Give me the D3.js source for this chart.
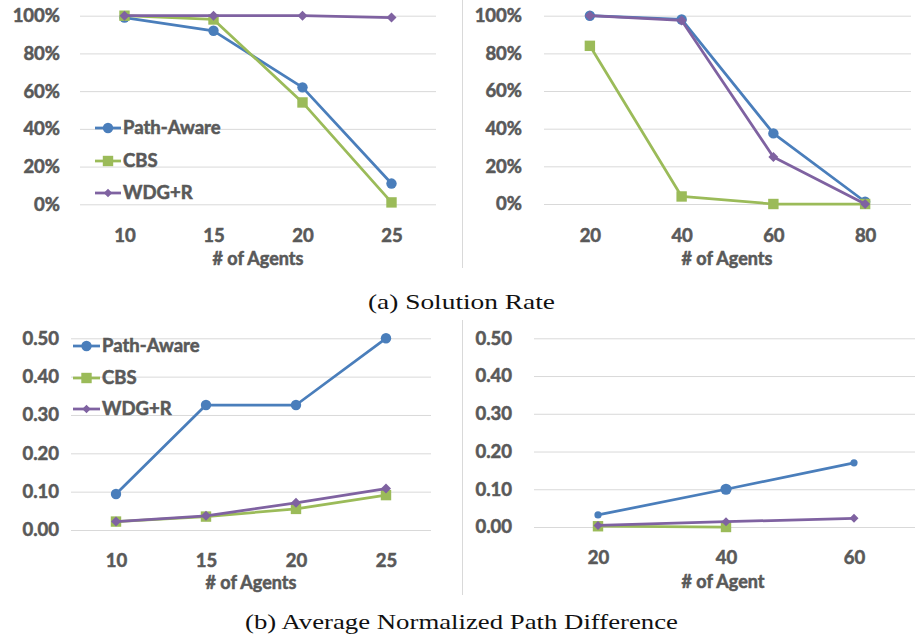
<!DOCTYPE html>
<html>
<head>
<meta charset="utf-8">
<script src="https://cdn.jsdelivr.net/npm/d3@7"></script>
<style>
  html, body { margin: 0; padding: 0; background: #fff; }
  svg { display: block; }
</style>
</head>
<body>
<svg id="chart" width="915" height="640"></svg>
<script>
// ---------------- DATA ----------------
const seriesNames = ["Path-Aware", "CBS", "WDG+R"];

// (a) Solution Rate
const agentsA1 = [10, 15, 20, 25];
const rateA1_pathAware = [0.99, 0.92, 0.62, 0.11];
const rateA1_cbs       = [1.00, 0.98, 0.54, 0.01];
const rateA1_wdg       = [1.00, 1.00, 1.00, 0.99];

const agentsA2 = [20, 40, 60, 80];
const rateA2_pathAware = [1.00, 0.98, 0.375, 0.012];
const rateA2_cbs       = [0.84, 0.04, 0.00, 0.00];
const rateA2_wdg       = [1.00, 0.975, 0.25, 0.00];

const rateTicks = [0, 0.2, 0.4, 0.6, 0.8, 1.0];

// (b) Average Normalized Path Difference
const agentsB1 = [10, 15, 20, 25];
const diffB1_pathAware = [0.094, 0.326, 0.326, 0.50];
const diffB1_cbs       = [0.022, 0.035, 0.055, 0.091];
const diffB1_wdg       = [0.022, 0.037, 0.071, 0.108];

const agentsB2 = [20, 40, 60];
const diffB2_pathAware = [0.032, 0.100, 0.170];
const diffB2_cbs       = [0.002, 0.000];
const diffB2_wdg       = [0.004, 0.014, 0.023];

const diffTicks = [0, 0.1, 0.2, 0.3, 0.4, 0.5];

const captionA = "(a) Solution Rate";
const captionB = "(b) Average Normalized Path Difference";
const xTitleA = "# of Agents";
const xTitleB1 = "# of Agents";
const xTitleB2 = "# of Agent";

// ---------------- STYLE ----------------
const colors = { "Path-Aware": "#4a7ebb", "CBS": "#9bbb59", "WDG+R": "#7f62a1" };
const shapes = { "Path-Aware": "circle", "CBS": "square", "WDG+R": "diamond" };
const labelFont = "Lato, 'Open Sans', sans-serif";
const labelWeight = 700;
const textColor = "#595959";
const gridColor = "#d9d9d9";

const svg = d3.select("#chart");

function drawMarker(g, shape, cx, cy, color, s) {
  if (shape === "circle") {
    g.append("circle").attr("cx", cx).attr("cy", cy).attr("r", s).attr("fill", color);
  } else if (shape === "square") {
    g.append("rect").attr("x", cx - s).attr("y", cy - s).attr("width", 2 * s).attr("height", 2 * s).attr("fill", color);
  } else {
    g.append("path")
      .attr("d", `M${cx},${cy - s}L${cx + s},${cy}L${cx},${cy + s}L${cx - s},${cy}Z`)
      .attr("fill", color);
  }
}

function styleText(sel, size) {
  sel.attr("font-family", labelFont).attr("font-weight", labelWeight)
    .attr("font-size", size).attr("fill", textColor)
    .attr("stroke", textColor).attr("stroke-width", 0.55);
}

function panel(cfg) {
  const g = svg.append("g");
  const x = d3.scalePoint().domain(cfg.cats).range(cfg.xRange).padding(0.5);
  const y = d3.scaleLinear().domain([0, cfg.yMax]).range(cfg.yRange);

  // y axis with gridlines
  const yAxis = d3.axisLeft(y)
    .tickValues(cfg.ticks)
    .tickFormat(cfg.fmt)
    .tickSize(-(cfg.xRange[1] - cfg.xRange[0]))
    .tickPadding(cfg.yLabelPad);
  const ya = g.append("g").attr("transform", `translate(${cfg.xRange[0]},0)`).call(yAxis);
  ya.select(".domain").remove();
  ya.selectAll("line").attr("stroke", gridColor).attr("stroke-width", 1);
  styleText(ya.selectAll("text"), cfg.fontSize);

  // x axis labels
  const xAxis = d3.axisBottom(x).tickSize(0).tickPadding(0);
  const xa = g.append("g").attr("transform", `translate(0,${cfg.xLabelY})`).call(xAxis);
  xa.select(".domain").remove();
  styleText(xa.selectAll("text").attr("dy", "0.35em"), cfg.fontSize);

  // x title
  styleText(g.append("text")
    .attr("x", (cfg.xRange[0] + cfg.xRange[1]) / 2 + cfg.titleDx)
    .attr("y", cfg.titleY).attr("dy", "0.35em")
    .attr("text-anchor", "middle")
    .text(cfg.title), cfg.fontSize - 0.5);

  // series
  const line = d3.line().x(d => x(d[0])).y(d => y(d[1]));
  cfg.series.forEach(sr => {
    const pts = sr.values.map((v, i) => [cfg.cats[i], v]);
    g.append("path").datum(pts)
      .attr("d", line).attr("fill", "none")
      .attr("stroke", colors[sr.name]).attr("stroke-width", 2.75)
      .attr("stroke-linejoin", "round");
    pts.forEach((p, i) => {
      const s = (sr.sizes ? sr.sizes[i] : null) || cfg.markerSize[shapes[sr.name]];
      drawMarker(g, shapes[sr.name], x(p[0]), y(p[1]), colors[sr.name], s);
    });
  });

  // legend
  if (cfg.legend) {
    const L = cfg.legend;
    seriesNames.forEach((n, i) => {
      const yy = L.ys[i];
      g.append("line").attr("x1", L.x0).attr("x2", L.x1).attr("y1", yy).attr("y2", yy)
        .attr("stroke", colors[n]).attr("stroke-width", 2.75);
      drawMarker(g, shapes[n], (L.x0 + L.x1) / 2, yy, colors[n], cfg.markerSize[shapes[n]] * (shapes[n] === "diamond" ? 0.85 : 1));
      styleText(g.append("text").attr("x", L.x1 + 2).attr("y", yy).attr("dy", "0.35em").text(n), cfg.fontSize);
    });
  }
}

const pct = d => d3.format(".0%")(d);
const dec = d => d3.format(".2f")(d);
const msize = { circle: 5.2, square: 5.2, diamond: 5 };

panel({
  cats: agentsA1, xRange: [80, 436], yRange: [204.3, 15.7], yMax: 1,
  ticks: rateTicks, fmt: pct, yLabelPad: 20, xLabelY: 236, titleY: 259, titleDx: 0,
  fontSize: 18.5, title: xTitleA, markerSize: msize,
  series: [
    { name: "Path-Aware", values: rateA1_pathAware },
    { name: "CBS", values: rateA1_cbs },
    { name: "WDG+R", values: rateA1_wdg }
  ],
  legend: { x0: 95, x1: 121, ys: [128, 161, 193] }
});

panel({
  cats: agentsA2, xRange: [544, 911], yRange: [204, 15.7], yMax: 1,
  ticks: rateTicks, fmt: pct, yLabelPad: 22, xLabelY: 236, titleY: 259, titleDx: -0.5,
  fontSize: 18.5, title: xTitleA, markerSize: msize,
  series: [
    { name: "Path-Aware", values: rateA2_pathAware },
    { name: "CBS", values: rateA2_cbs },
    { name: "WDG+R", values: rateA2_wdg }
  ]
});

panel({
  cats: agentsB1, xRange: [71, 431], yRange: [530, 338.3], yMax: 0.5,
  ticks: diffTicks, fmt: dec, yLabelPad: 12, xLabelY: 560.5, titleY: 583, titleDx: 0,
  fontSize: 18.5, title: xTitleB1, markerSize: msize,
  series: [
    { name: "Path-Aware", values: diffB1_pathAware },
    { name: "CBS", values: diffB1_cbs },
    { name: "WDG+R", values: diffB1_wdg }
  ],
  legend: { x0: 73, x1: 100, ys: [346, 378, 409] }
});

panel({
  cats: agentsB2, xRange: [534, 918], yRange: [527, 338.3], yMax: 0.5,
  ticks: diffTicks, fmt: dec, yLabelPad: 22, xLabelY: 558, titleY: 582, titleDx: -3,
  fontSize: 18.5, title: xTitleB2, markerSize: msize,
  series: [
    { name: "CBS", values: diffB2_cbs },
    { name: "Path-Aware", values: diffB2_pathAware, sizes: [3.6, 5.6, 3.6] },
    { name: "WDG+R", values: diffB2_wdg, sizes: [4.5, 4.5, 4.5] }
  ]
});

// separators
svg.append("line").attr("x1", 462.5).attr("x2", 462.5).attr("y1", 0).attr("y2", 268)
  .attr("stroke", gridColor).attr("stroke-width", 1);
svg.append("line").attr("x1", 462.5).attr("x2", 462.5).attr("y1", 320).attr("y2", 595)
  .attr("stroke", gridColor).attr("stroke-width", 1);

// captions
svg.append("text").attr("x", 461.5).attr("y", 302).attr("dy", "0.35em")
  .attr("text-anchor", "middle")
  .attr("font-family", "'Liberation Serif', 'DejaVu Serif', serif").attr("font-size", 21)
  .attr("fill", "#111").attr("textLength", 187).attr("lengthAdjust", "spacingAndGlyphs")
  .text(captionA);
svg.append("text").attr("x", 461.5).attr("y", 622).attr("dy", "0.35em")
  .attr("text-anchor", "middle")
  .attr("font-family", "'Liberation Serif', 'DejaVu Serif', serif").attr("font-size", 21)
  .attr("fill", "#111").attr("textLength", 433).attr("lengthAdjust", "spacingAndGlyphs")
  .text(captionB);
</script>
</body>
</html>
